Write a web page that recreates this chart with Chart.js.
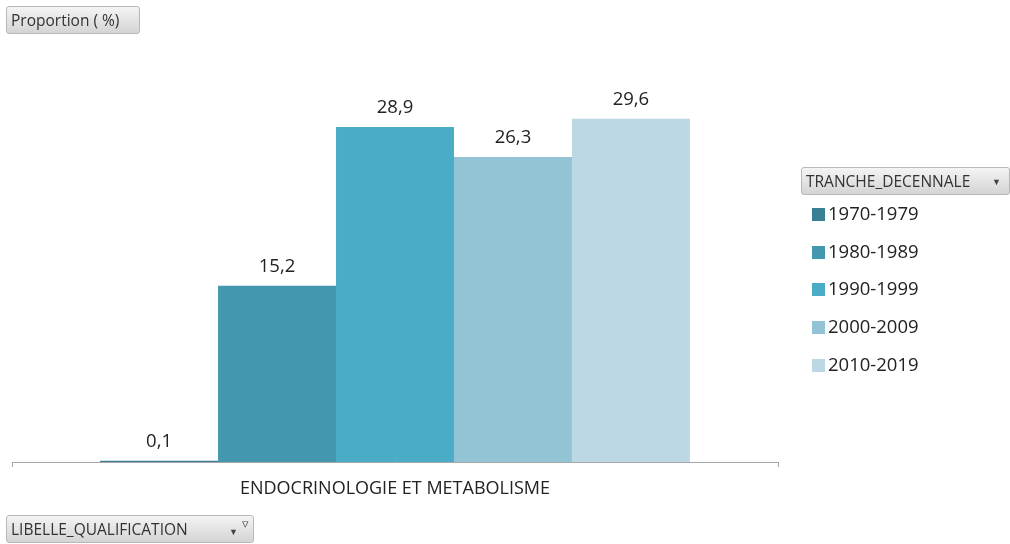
<!DOCTYPE html>
<html lang="fr">
<head>
    <meta charset="UTF-8">
    <title>Proportion par tranche décennale</title>
    <script src="https://cdn.jsdelivr.net/npm/chart.js"></script>
    <style>
        body {
            margin: 0;
            background: #fff;
            font-family: "Open Sans", sans-serif;
        }
        #wrap {
            position: relative;
            width: 1010px;
            height: 544px;
        }
        .fieldBtn {
            position: absolute;
            height: 28px;
            line-height: 27px;
            box-sizing: border-box;
            padding-left: 4px;
            font-size: 15.5px;
            color: #333;
            border: 1px solid #b8b8b8;
            border-radius: 3px;
            background: linear-gradient(#f4f4f4, #d4d4d4);
            white-space: nowrap;
        }
        #legend {
            position: absolute;
            left: 812px;
            top: 200px;
            font-size: 18.5px;
            color: #222;
        }
        #legend div {
            height: 37.7px;
            line-height: 25px;
            display: flex;
            align-items: flex-start;
        }
        #legend span.box {
            display: inline-block;
            width: 13px;
            height: 13px;
            margin-top: 8px;
            margin-right: 3px;
        }
    </style>
</head>
<body>
<div id="wrap">
    <canvas id="chart" width="1010" height="544"></canvas>
    <div class="fieldBtn" style="left:6px;top:6px;width:134px;">Proportion ( %)</div>
    <div class="fieldBtn" style="left:801px;top:167px;width:209px;">TRANCHE_DECENNALE<span style="position:absolute;right:8px;top:0;font-size:9px;color:#444;">&#9660;</span></div>
    <div class="fieldBtn" style="left:6px;top:515px;width:248px;">LIBELLE_QUALIFICATION<span style="position:absolute;right:15px;top:2px;font-size:9px;color:#444;">&#9660;</span><span style="position:absolute;right:4px;top:-6px;font-size:13px;color:#444;">&#9663;</span></div>
    <div id="legend"></div>
</div>
<script>
    // data
    var categories = ["ENDOCRINOLOGIE ET METABOLISME"];
    var tranches = ["1970-1979", "1980-1989", "1990-1999", "2000-2009", "2010-2019"];
    var proportions = [0.1, 15.2, 28.9, 26.3, 29.6];
    var colors = ["#3a8094", "#4397ae", "#4aacc6", "#93c4d6", "#bcd8e4"];

    var datasets = [];
    for (let i = 0; i < tranches.length; i++) {
        datasets.push({
            label: tranches[i],
            data: [proportions[i]],
            backgroundColor: colors[i],
            borderWidth: 0
        });
    }

    // values above bars, french decimal comma
    var barLabels = {
        id: 'barLabels',
        afterDatasetsDraw(chart) {
            let ctx = chart.ctx;
            ctx.save();
            ctx.font = '18.5px "Open Sans", sans-serif';
            ctx.fillStyle = '#222';
            ctx.textAlign = 'center';
            ctx.textBaseline = 'alphabetic';
            chart.data.datasets.forEach(function(ds, i) {
                chart.getDatasetMeta(i).data.forEach(function(bar, j) {
                    let txt = ds.data[j].toFixed(1).replace('.', ',');
                    ctx.fillText(txt, bar.x, bar.y - 14);
                });
            });
            ctx.restore();
        }
    };

    new Chart(document.getElementById('chart'), {
        type: 'bar',
        data: { labels: categories, datasets: datasets },
        options: {
            responsive: false,
            animation: false,
            layout: { padding: { left: 12, right: 232, top: 62, bottom: 0 } },
            categoryPercentage: 0.77,
            barPercentage: 1.0,
            plugins: {
                legend: { display: false },
                tooltip: { enabled: false }
            },
            scales: {
                x: {
                    afterFit: function(scale) { scale.height = 82; },
                    grid: {
                        offset: true,
                        drawOnChartArea: false,
                        drawTicks: true,
                        tickLength: 5,
                        color: '#a6a6a6'
                    },
                    border: { color: '#a6a6a6' },
                    ticks: {
                        padding: 11,
                        color: '#222',
                        font: { family: '"Open Sans", sans-serif', size: 18 }
                    }
                },
                y: {
                    display: false,
                    min: 0,
                    max: 34.5
                }
            }
        },
        plugins: [barLabels]
    });

    // legend from the same arrays
    var lg = document.getElementById('legend');
    for (let i = 0; i < tranches.length; i++) {
        let row = document.createElement('div');
        row.innerHTML = '<span class="box" style="background:' + colors[i] + '"></span>' + tranches[i];
        lg.appendChild(row);
    }
</script>
</body>
</html>
